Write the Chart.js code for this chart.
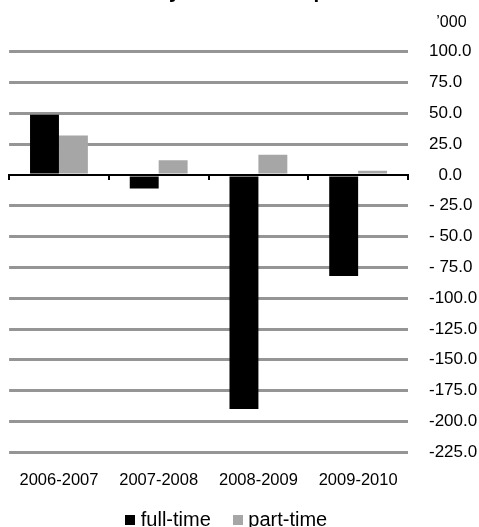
<!DOCTYPE html>
<html><head><meta charset="utf-8">
<script src="https://cdn.jsdelivr.net/npm/chart.js@4"></script>
<style>
html,body{margin:0;padding:0;background:#fff;overflow:hidden;width:479px;height:527px;}
#wrap{position:absolute;left:0;top:-20px;width:479px;height:560px;}
</style></head><body>
<div id="wrap"><canvas id="c" width="479" height="560"></canvas></div>
<script>
const categories = ['2006-2007', '2007-2008', '2008-2009', '2009-2010'];
const fullTime = [49, -11, -190, -82];
const partTime = [32, 12, 16.5, 3.5];
const seriesNames = ['full-time', 'part-time'];
const seriesColors = ['#000000', '#a6a6a6'];
const unitLabel = '\u2019000';
const titleText = 'Job losses by full-time and part-time';
const yMin = -225, yMax = 100, yStep = 25;

const FONT = '"Liberation Sans", Arial, Helvetica, sans-serif';

function fmt(v) {
  if (v === 0) return '  0.0';
  if (v < 0 && v > -100) return '- ' + Math.abs(v).toFixed(1);
  return v.toFixed(1);
}

function swatch(color) {
  const c = document.createElement('canvas');
  c.width = 10; c.height = 10;
  const g = c.getContext('2d');
  g.fillStyle = color; g.fillRect(0, 0, 10, 10);
  return c;
}
const swatches = seriesColors.map(swatch);

new Chart(document.getElementById('c'), {
  type: 'bar',
  data: {
    labels: categories,
    datasets: [
      { label: seriesNames[0], data: fullTime, backgroundColor: seriesColors[0], xAxisID: 'x', yAxisID: 'y' },
      { label: seriesNames[1], data: partTime, backgroundColor: seriesColors[1], xAxisID: 'x', yAxisID: 'y' }
    ]
  },
  options: {
    responsive: false,
    devicePixelRatio: 1,
    animation: false,
    categoryPercentage: 0.58,
    barPercentage: 1.0,
    layout: { padding: { left: 8, right: 0, top: 0, bottom: 0 } },
    plugins: {
      title: {
        display: true, text: titleText + '\u2003\u2003', color: '#000',
        font: { family: FONT, size: 20.5, weight: 'bold' },
        padding: { top: 0, bottom: 0 }
      },
      subtitle: {
        display: true, text: unitLabel + '\u2002 ', align: 'end', color: '#000',
        font: { family: FONT, size: 16 },
        padding: { top: 8, bottom: 20 }
      },
      legend: {
        display: true, position: 'bottom',
        labels: {
          color: '#000', font: { family: FONT, size: 20 },
          boxWidth: 1, boxHeight: 10, padding: 1, usePointStyle: true,
          generateLabels: chart => {
            const items = Chart.defaults.plugins.legend.labels.generateLabels(chart);
            items.forEach((it, i) => {
              it.pointStyle = swatches[i];
              it.text = seriesNames[i] + (i === 0 ? '\u2003 ' : '\u2003\u2002');
            });
            return items;
          }
        }
      },
      tooltip: { enabled: false }
    },
    scales: {
      x: {
        type: 'category', position: 'bottom',
        grid: { display: false, drawTicks: false },
        border: { display: false },
        ticks: { color: '#000', font: { family: FONT, size: 16.5 }, padding: 18.5, maxRotation: 0 }
      },
      x2: {
        type: 'category', labels: categories, position: { y: 0 }, offset: true,
        grid: { display: true, drawOnChartArea: false, drawTicks: true, tickLength: 4, color: '#000', lineWidth: 2, offset: true },
        border: { display: true, color: '#000', width: 2 },
        ticks: { display: false }
      },
      y: {
        position: 'right', min: yMin, max: yMax,
        ticks: { stepSize: yStep, color: '#000', font: { family: FONT, size: 17 }, padding: 21, callback: fmt },
        grid: { drawTicks: false, lineWidth: 3, color: ctx => (ctx.tick && ctx.tick.value === 0) ? 'rgba(0,0,0,0)' : '#959595' },
        border: { display: false },
        afterFit: s => { s.width = 71; }
      }
    }
  }
});
</script>
</body></html>
